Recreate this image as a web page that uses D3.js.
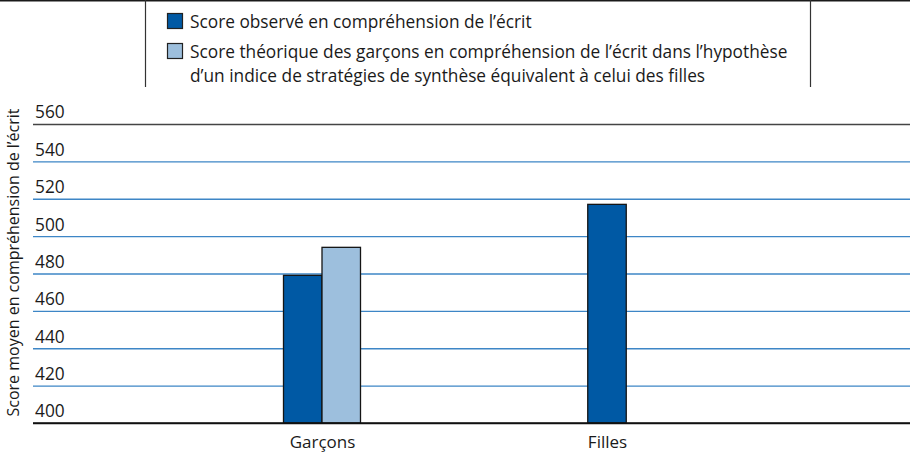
<!DOCTYPE html>
<html lang="fr">
<head>
<meta charset="utf-8">
<script src="https://cdn.jsdelivr.net/npm/d3@7"></script>
<style>
  html, body { margin: 0; padding: 0; background: #fff; }
  svg { display: block; font-family: "Open Sans", Lato, sans-serif; }
</style>
</head>
<body>
<svg id="chart" width="910" height="453"></svg>
<script>
// Mean reading scores
const categories = ["Garçons", "Filles"];
const seriesNames = [
  "Score observé en compréhension de l’écrit",
  "Score théorique des garçons en compréhension de l’écrit dans l’hypothèse d’un indice de stratégies de synthèse équivalent à celui des filles"
];
const legendLines = [
  ["Score observé en compréhension de l’écrit"],
  ["Score théorique des garçons en compréhension de l’écrit dans l’hypothèse",
   "d’un indice de stratégies de synthèse équivalent à celui des filles"]
];
const observed = [479, 517];
const theoretical = [494, null];
const yTicks = [400, 420, 440, 460, 480, 500, 520, 540, 560];
const yTitle = "Score moyen en compréhension de l’écrit";

const colors = ["#0059a4", "#9dbfdd"];
const FONT = "'Open Sans', Lato, sans-serif";

const svg = d3.select("#chart");
const W = 910;
const plot = { left: 33, right: 910, top: 124, bottom: 423 };

const y = d3.scaleLinear().domain([400, 560]).range([plot.bottom, plot.top]);
const x = d3.scalePoint().domain(categories).range([37, 892]).padding(1);
const barW = 38.5;

// Legend frame
svg.append("line").attr("x1", 0).attr("x2", W).attr("y1", 0.75).attr("y2", 0.75)
  .attr("stroke", "#1a1a1a").attr("stroke-width", 1.5);
[145.5, 810.5].forEach(px => {
  svg.append("line").attr("x1", px).attr("x2", px).attr("y1", 0).attr("y2", 87)
    .attr("stroke", "#333").attr("stroke-width", 1.2);
});

// Legend entries
const legend = svg.append("g");
const legendTop = [13, 43];
seriesNames.forEach((name, i) => {
  const g = legend.append("g").attr("transform", `translate(167,${legendTop[i]})`);
  g.append("rect").attr("x", 0.5).attr("y", 0.5).attr("width", 15).attr("height", 15)
    .attr("fill", colors[i]).attr("stroke", "#222").attr("stroke-width", 1.2);
  const t = g.append("text").attr("x", 23).attr("y", 15)
    .attr("font-size", 17.3).attr("fill", "#1a1a1a");
  legendLines[i].forEach((line, j) => {
    t.append("tspan").attr("x", 23).attr("dy", j === 0 ? 0 : 24).text(line);
  });
});

// Y axis: gridlines with labels sitting above each line
const yAxis = svg.append("g")
  .attr("transform", `translate(${plot.left},0)`)
  .call(d3.axisRight(y).tickValues(yTicks).tickSize(plot.right - plot.left).tickFormat(d3.format("d")));
yAxis.select(".domain").remove();
yAxis.selectAll(".tick line")
  .attr("stroke", d => d === 560 ? "#444" : d === 400 ? "#111" : "#3d86c6")
  .attr("stroke-width", d => (d === 560 || d === 400) ? 1.5 : 1.3);
yAxis.selectAll(".tick text")
  .attr("x", 2).attr("dy", "-0.35em")
  .attr("text-anchor", "start")
  .attr("font-size", 17.3).attr("fill", "#1a1a1a")
  .attr("font-family", FONT);

// Y title
svg.append("text")
  .attr("transform", `translate(19,${(plot.top + plot.bottom) / 2 - 11}) rotate(-90)`)
  .attr("text-anchor", "middle")
  .attr("font-size", 16)
  .attr("fill", "#1a1a1a")
  .text(yTitle);

// Bars: each category draws only the series that have a value, centred on the category
const groups = categories.map((c, i) => {
  const vals = [observed[i], theoretical[i]]
    .map((v, s) => ({ cat: c, series: s, value: v }))
    .filter(d => d.value != null);
  return { cat: c, vals };
});
const bars = svg.append("g");
groups.forEach(g => {
  const inner = d3.scaleBand().domain(g.vals.map(d => d.series))
    .range([x(g.cat) - barW * g.vals.length / 2, x(g.cat) + barW * g.vals.length / 2]);
  bars.selectAll(null).data(g.vals).join("rect")
    .attr("x", d => inner(d.series))
    .attr("width", inner.bandwidth())
    .attr("y", d => y(d.value))
    .attr("height", d => y(400) - y(d.value))
    .attr("fill", d => colors[d.series])
    .attr("stroke", "#151515")
    .attr("stroke-width", 1.3);
});

// Redraw the baseline on top of the bars
svg.append("line").attr("x1", plot.left).attr("x2", plot.right)
  .attr("y1", y(400)).attr("y2", y(400)).attr("stroke", "#111").attr("stroke-width", 1.5);

// X axis labels
const xAxis = svg.append("g")
  .attr("transform", `translate(0,${plot.bottom})`)
  .call(d3.axisBottom(x).tickSize(0).tickPadding(13));
xAxis.select(".domain").remove();
xAxis.selectAll(".tick text")
  .attr("font-size", 17).attr("fill", "#1a1a1a")
  .attr("font-family", FONT);
</script>
</body>
</html>
